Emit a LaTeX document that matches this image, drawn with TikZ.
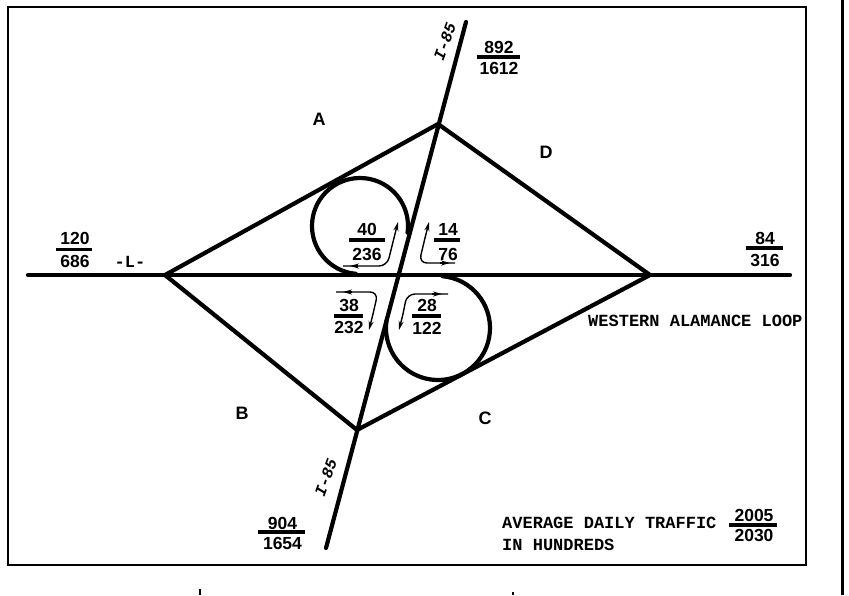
\documentclass[tikz,border=0pt]{standalone}
\usepackage{fontspec}
\setmainfont{Liberation Sans}
\newfontfamily\mb{Liberation Mono}
\usetikzlibrary{arrows.meta}
\tikzset{
  road/.style={line width=4.2pt,black,line cap=round,line join=round},
  framel/.style={line width=2.6pt,black},
  bar/.style={line width=3.2pt,black},
  thin arr/.style={line width=1.4pt,black,rounded corners=8pt},
  tipped/.style={line width=1.4pt,black,-{Stealth[length=9pt,width=5pt]}},
  num/.style={font=\bfseries\fontsize{17.5}{17.5}\selectfont,inner sep=0pt,anchor=center},
  lab/.style={font=\bfseries\fontsize{18}{18}\selectfont,inner sep=0pt,anchor=center},
  mono/.style={font=\mb\bfseries\fontsize{17}{17}\selectfont,inner sep=0pt,anchor=west},
  route/.style={font=\mb\bfseries\itshape\fontsize{16}{16}\selectfont,inner sep=0pt,anchor=center,rotate=70}
}
% name, x, ynum, ybar, yden, x1, x2, num, den
\newcommand{\frc}[9]{%
  \node[num] (#1n) at (#2,#3) {#8};
  \node[num] (#1d) at (#2,#5) {#9};
  \coordinate (#1a) at (#6,#4);
  \coordinate (#1b) at (#7,#4);
  \draw[bar] (#1a) -- (#1b);
}
\begin{document}
\begin{tikzpicture}[x=1pt,y=-1pt]
\useasboundingbox (0,0) rectangle (849,595);
\fill[white] (0,0) rectangle (849,595);
% frame
\coordinate (fa) at (8,7);
\coordinate (fb) at (806,565);
\draw[framel] (fa) rectangle (fb);
\coordinate (ra) at (842,0);
\coordinate (rb) at (842,595);
\draw[line width=3pt] (ra) -- (rb);
\coordinate (ta) at (200,589);
\coordinate (tb) at (200,595);
\draw[line width=1.5pt] (ta) -- (tb);
\coordinate (tc) at (513,592);
\coordinate (td) at (513,595);
\draw[line width=1.5pt] (tc) -- (td);
% roads
\coordinate (wl) at (28,275);
\coordinate (wr) at (790,275);
\coordinate (in) at (466,22);
\coordinate (is) at (326,548);
\coordinate (dl) at (165,275);
\coordinate (dt) at (438,124);
\coordinate (dr) at (650,275);
\coordinate (db) at (357,430);
\draw[road] (wl) -- (wr);
\draw[road] (in) -- (is);
\draw[road] (dl) -- (dt) -- (dr) -- (db) -- (dl) -- cycle;
% loops
\coordinate (c1) at (360,226);
\coordinate (c2) at (438,328);
\draw[road] ([shift={(265:48pt)}]c1) arc[start angle=265,end angle=-8,radius=48pt];
\draw[road] ([shift={(85:52pt)}]c2) arc[start angle=85,end angle=-188,radius=52pt];
% turning arrows
\coordinate (a1) at (343,266);
\coordinate (a1h) at (350,266);
\coordinate (a1i) at (358,266);
\coordinate (a1c) at (387,266);
\coordinate (a1e) at (398,222);
\coordinate (a1f) at (394,238);
\draw[thin arr] (a1) -- (a1c) -- (a1f);
\draw[tipped] (a1f) -- (a1e);
\draw[tipped] (a1i) -- (a1h);
\coordinate (a2) at (455,263);
\coordinate (a2h) at (450,263);
\coordinate (a2i) at (440,263);
\coordinate (a2c) at (419,263);
\coordinate (a2e) at (429,222);
\coordinate (a2f) at (425,238);
\draw[thin arr] (a2) -- (a2c) -- (a2f);
\draw[tipped] (a2f) -- (a2e);
\draw[tipped] (a2i) -- (a2h);
\coordinate (a3) at (336,292);
\coordinate (a3h) at (343,292);
\coordinate (a3i) at (352,292);
\coordinate (a3c) at (378,292);
\coordinate (a3e) at (369,330);
\coordinate (a3f) at (373,314);
\draw[thin arr] (a3) -- (a3c) -- (a3f);
\draw[tipped] (a3f) -- (a3e);
\draw[tipped] (a3i) -- (a3h);
\coordinate (a4) at (448,294);
\coordinate (a4h) at (442,294);
\coordinate (a4i) at (432,294);
\coordinate (a4c) at (407,294);
\coordinate (a4e) at (399,330);
\coordinate (a4f) at (403,314);
\draw[thin arr] (a4) -- (a4c) -- (a4f);
\draw[tipped] (a4f) -- (a4e);
\draw[tipped] (a4i) -- (a4h);
% fractions
\frc{f1}{367}{229}{240}{254}{349}{385}{40}{236}
\frc{f2}{448}{229}{240}{254}{434}{460}{14}{76}
\frc{f3}{349}{305}{316}{327}{334}{363}{38}{232}
\frc{f4}{427}{305}{316}{328}{412}{441}{28}{122}
\frc{f5}{499}{47}{57}{68}{477}{520}{892}{1612}
\frc{f6}{75}{238.5}{249.5}{261}{56}{92}{120}{686}
\frc{f7}{765}{238}{248}{260}{746}{783}{84}{316}
\frc{f8}{282.5}{523}{532}{543}{258}{305}{904}{1654}
\frc{f9}{754}{515}{525}{535}{729}{777}{2005}{2030}
% letters
\node[lab] (la) at (319,119) {A};
\node[lab] (ld) at (546,152) {D};
\node[lab] (lb) at (242,413) {B};
\node[lab] (lc) at (485,418) {C};
% texts
\node[mono,anchor=center] (ll) at (130,262) {-L-};
\node[mono] (wal) at (588,321) {WESTERN ALAMANCE LOOP};
\node[mono] (adt) at (502,523) {AVERAGE DAILY TRAFFIC};
\node[mono] (hun) at (502,545) {IN HUNDREDS};
\node[route] (i1) at (445,42) {I-85};
\node[route] (i2) at (326,478) {I-85};
\end{tikzpicture}
\end{document}
